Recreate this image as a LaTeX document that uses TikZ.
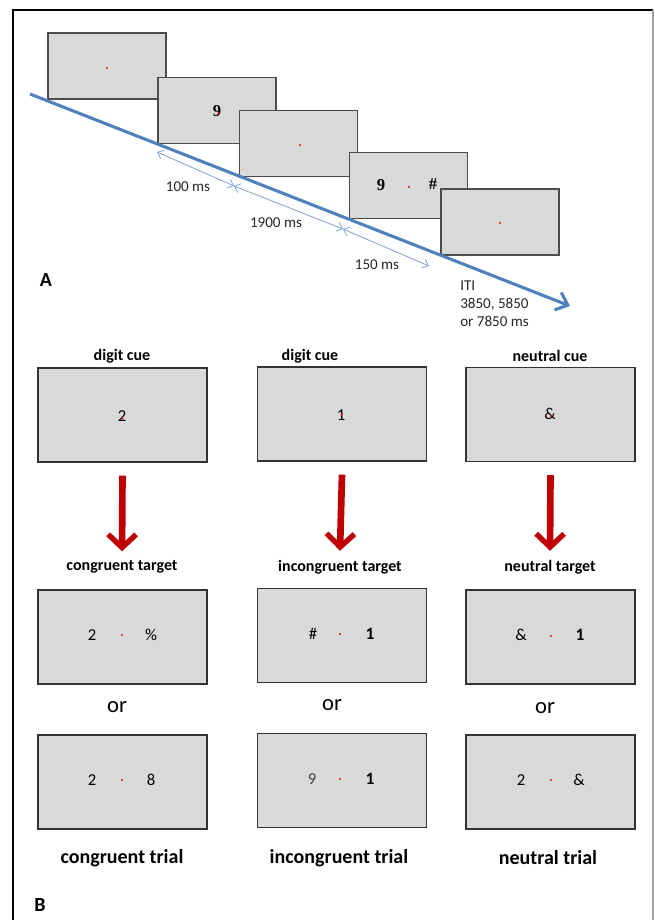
\documentclass[tikz,border=0pt]{standalone}
\usepackage{fontspec}
\setmainfont{Carlito}
\usetikzlibrary{arrows.meta}
\definecolor{scrgray}{HTML}{D9D9D9}
\definecolor{timeblue}{HTML}{4F81BD}
\definecolor{spanblue}{HTML}{7BA3D6}
\definecolor{cuered}{HTML}{C00000}
\tikzset{
  smallscreen/.style={draw=black!70, line width=0.9pt, fill=scrgray, minimum width=88.5pt, minimum height=49.5pt, inner sep=0pt},
  bigscreen/.style={draw=black!80, line width=0.9pt, fill=scrgray, minimum width=126.75pt, minimum height=70.5pt, inner sep=0pt},
  fix/.style={circle, fill=red, inner sep=0pt, minimum size=1.6pt},
  symb/.style={font=\fontsize{12.5}{14}\selectfont, inner sep=0pt},
  bsymb/.style={font=\fontsize{13}{15}\selectfont\bfseries\rmfamily, inner sep=0pt},
  serifsym/.style={font=\fontsize{12.5}{14}\selectfont\bfseries\fontspec{Liberation Serif}, inner sep=0pt},
  timeline/.style={draw=timeblue, line width=2.3pt, -{Straight Barb[length=8pt, width=14pt, line width=2.3pt]}},
  span/.style={draw=spanblue, line width=0.6pt, {Straight Barb[length=4pt, width=7pt]}-{Straight Barb[length=4pt, width=7pt]}},
  msl/.style={font=\fontsize{11.3}{13}\selectfont, text=black!85, inner sep=0pt},
  head/.style={font=\fontsize{12}{14}\selectfont\bfseries, inner sep=0pt},
  trial/.style={font=\fontsize{15}{18}\selectfont\bfseries, inner sep=0pt},
  ortext/.style={font=\fontsize{17}{20}\selectfont, inner sep=0pt},
  panel/.style={font=\fontsize{15}{17}\selectfont\bfseries, inner sep=0pt},
  cuearrow/.style={draw=cuered, line width=5pt, -{Straight Barb[length=10pt, width=21pt, line width=4pt]}}
}
\begin{document}
\begin{tikzpicture}[x=0.75pt,y=-0.75pt]
\useasboundingbox (0,0) rectangle (654,920);
% outer frame
\draw[black, line width=0.9pt] (13,920) -- (13,10) -- (653,10);
\draw[black!35, line width=0.9pt] (653,10) -- (653,920);

% ---------- panel A: trial sequence ----------
\node[smallscreen] (s1) at (107,66) {};
\node[fix] (d1) at (107,68) {};
\node[smallscreen] (s2) at (217,110.5) {};
\node[serifsym] (n2) at (217,111) {9};
\node[fix] (d2) at (218.5,113) {};
\node[smallscreen] (s3) at (298.5,143.5) {};
\node[fix] (d3) at (300,145) {};
\node[smallscreen] (s4) at (408.5,185.5) {};
\node[serifsym] (n4) at (381,185) {9};
\node[fix] (d4) at (409,187) {};
\node[serifsym] (h4) at (433,184) {\#};
\node[smallscreen] (s5) at (500,222) {};
\node[fix] (d5) at (500,223) {};

\coordinate (tl0) at (30,94);
\coordinate (tl1) at (570,306);
\draw[timeline] (tl0) -- (tl1);

\coordinate (p0) at (157,152);
\coordinate (p1) at (234,186);
\coordinate (p2) at (343,229);
\coordinate (p3) at (429,266);
\draw[span] (p0) -- (p1);
\draw[span] (p1) -- (p2);
\draw[span] (p2) -- (p3);
\node[msl] (l100) at (188,187) {100 ms};
\node[msl] (l1900) at (276,223) {1900 ms};
\node[msl] (l150) at (377,265) {150 ms};
\node[msl, anchor=north west, align=left, font=\fontsize{11.3}{13.5}\selectfont] (iti) at (460,281) {ITI\\3850, 5850\\or 7850 ms};
\node[panel] (labA) at (46,280) {A};

% ---------- panel B: cue and target conditions ----------
\node[head] (h1) at (122,356) {digit cue};
\node[head] (h2) at (310,356) {digit cue};
\node[head] (h3) at (550,356) {neutral cue};

\node[bigscreen] (c1) at (122.5,415) {};
\node[bigscreen] (c2) at (342,414) {};
\node[bigscreen] (c3) at (550.5,414.5) {};
\node[symb] (c1s) at (122,416) {2};
\node[fix] at (122.5,418) {};
\node[symb] (c2s) at (341,415) {1};
\node[fix] at (341.5,415) {};
\node[symb] (c3s) at (550,414) {\&};
\node[fix] at (551,416) {};

\node[head] (g1) at (122,567) {congruent target};
\node[head] (g2) at (340,567) {incongruent target};
\node[head] (g3) at (550,567) {neutral target};

\draw[cuearrow] ([yshift=-9.75pt]c1.south) -- ([yshift=6.75pt]g1.north);
\draw[cuearrow] ([yshift=-9.75pt]c2.south) -- ([yshift=6.75pt]g2.north);
\draw[cuearrow] ([yshift=-9.75pt]c3.south) -- ([yshift=6.75pt]g3.north);

\node[bigscreen] (t1) at (122.5,637) {};
\node[bigscreen] (t2) at (342,635.5) {};
\node[bigscreen] (t3) at (550.5,637) {};
\node[symb] at (92,635) {2};
\node[fix] at (122,635) {};
\node[symb] at (151,635) {\%};
\node[symb] at (313,634) {\#};
\node[fix] at (340,634) {};
\node[bsymb] at (370,634) {1};
\node[symb] at (521,635) {\&};
\node[fix] at (551,636) {};
\node[bsymb] at (580,635) {1};

\node[ortext] (or1) at (117,707) {or};
\node[ortext] (or2) at (332,705) {or};
\node[ortext] (or3) at (545,708) {or};

\node[bigscreen] (u1) at (122.5,782) {};
\node[bigscreen] (u2) at (342,780.5) {};
\node[bigscreen] (u3) at (550.5,782) {};
\node[symb] at (92,780) {2};
\node[fix] at (122,780) {};
\node[symb] at (151,780) {8};
\node[symb, text=black!75] at (312,779) {9};
\node[fix] at (340,779) {};
\node[bsymb] at (370,779) {1};
\node[symb] at (521,780) {2};
\node[fix] at (551,780) {};
\node[symb] at (579,780) {\&};

\node[trial] (r1) at (122,858) {congruent trial};
\node[trial] (r2) at (339,858) {incongruent trial};
\node[trial] (r3) at (548,858) {neutral trial};
\node[panel] (labB) at (40,905) {B};
\end{tikzpicture}
\end{document}
